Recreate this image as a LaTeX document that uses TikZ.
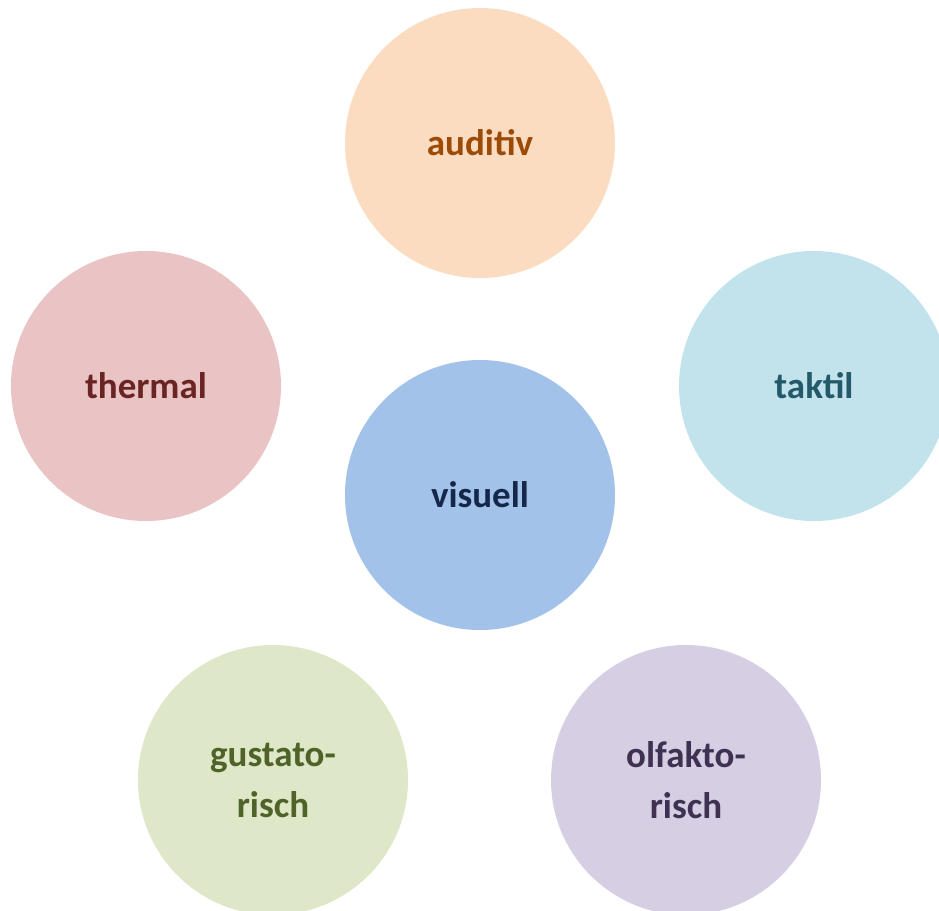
\documentclass[tikz,border=0pt]{standalone}
\usepackage{fontspec}
\setmainfont{Carlito}
\definecolor{audF}{HTML}{FBDCC0}\definecolor{audT}{HTML}{9C4A08}
\definecolor{thF}{HTML}{EAC4C4}\definecolor{thT}{HTML}{6A2424}
\definecolor{taF}{HTML}{C3E3EC}\definecolor{taT}{HTML}{24596A}
\definecolor{viF}{HTML}{A2C2E9}\definecolor{viT}{HTML}{15284A}
\definecolor{guF}{HTML}{DEE7C8}\definecolor{guT}{HTML}{4F6228}
\definecolor{olF}{HTML}{D6CEE2}\definecolor{olT}{HTML}{3F3152}
\tikzset{sense/.style={circle,minimum size=270pt,inner sep=0pt,align=center,
  font=\fontsize{37}{51}\selectfont\bfseries}}
\begin{document}
\begin{tikzpicture}[x=1pt,y=-1pt]
\useasboundingbox (0,0) rectangle (939,910);
\begin{scope}
\clip (0,0) rectangle (939,910);
\node[sense,fill=audF,text=audT] (aud) at (480,143) {auditiv};
\node[sense,fill=thF,text=thT] (th) at (146,386) {thermal};
\node[sense,fill=taF,text=taT] (ta) at (814,386) {taktil};
\node[sense,fill=viF,text=viT] (vi) at (480,495) {visuell};
\node[sense,fill=guF,text=guT] (gu) at (273,780) {gustato-\\risch};
\node[sense,fill=olF,text=olT] (ol) at (686,780) {olfakto-\\risch};
\end{scope}
\end{tikzpicture}
\end{document}
